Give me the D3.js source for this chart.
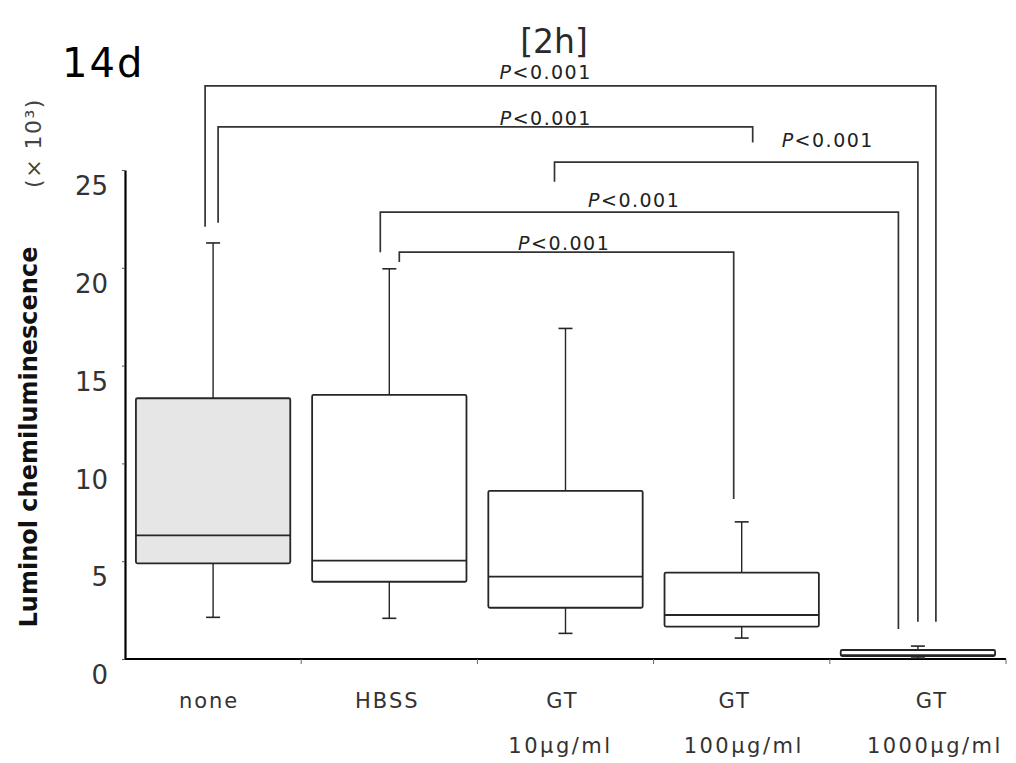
<!DOCTYPE html>
<html>
<head>
<meta charset="utf-8">
<script src="https://cdn.jsdelivr.net/npm/d3@7"></script>
<style>
  html, body { margin: 0; padding: 0; background: #fff; }
  svg { display: block; }
  text { font-family: "DejaVu Sans", sans-serif; }
</style>
</head>
<body>
<svg id="chart" width="1016" height="763"></svg>
<script>
// Groups and their two-line labels
const categories = ["none", "HBSS", "GT10", "GT100", "GT1000"];
const labelTop = ["none", "HBSS", "GT", "GT", "GT"];
const labelBottom = ["", "", "10\u03bcg/ml", "100\u03bcg/ml", "1000\u03bcg/ml"];

// Box-plot statistics (×10³)
const whiskerLow  = [2.13, 2.08, 1.31, 1.07, 0.05];
const q1          = [4.89, 3.95, 2.62, 1.66, 0.15];
const median      = [6.32, 5.03, 4.21, 2.25, 0.20];
const q3          = [13.33, 13.5, 8.60, 4.42, 0.46];
const whiskerHigh = [21.27, 19.95, 16.9, 7.01, 0.66];

const yTicks = [0, 5, 10, 15, 20, 25];

// Significance comparisons: groups, bracket level and leg ends (×10³)
const pairFrom  = ["none", "none", "GT10", "HBSS", "HBSS"];
const pairTo    = ["GT1000", "GT100", "GT1000", "GT1000", "GT100"];
const pLevel    = [29.3, 27.2, 25.4, 22.85, 20.8];
const legEndFrom = [22.1, 22.3, 24.4, 20.8, 20.3];
const legEndTo   = [1.9, 26.4, 1.9, 1.53, 8.18];
const pText = ["<0.001", "<0.001", "<0.001", "<0.001", "<0.001"];

// Bracket drawing layout (leg shifts in px, label placement along the span)
const legShiftFrom = [-8, 5, -11, -9, 10];
const legShiftTo   = [18, 11, 0, -19.5, -8];
const labelAlong   = [0.466, 0.613, 0.752, 0.49, 0.493];
const labelLift    = [7, 2, 15, 5, 2];

// Category label nudges (px)
const labelTopShift = [-4, -2, -3, -7, 14];
const labelBottomShift = [0, 0, -5, 2, 17];

const svg = d3.select("#chart");

const x = d3.scaleBand().domain(categories).range([125, 1006]).padding(0);
const y = d3.scaleLinear().domain([0, 25]).range([659, 170]);
const boxW = x.step() * 0.876;
const cx = c => x(c) + x.bandwidth() / 2;

// Titles
svg.append("text").attr("x", 62).attr("y", 77)
  .attr("font-size", 40).attr("letter-spacing", 2).attr("fill", "#000").text("14d");
svg.append("text").attr("x", 554).attr("y", 53).attr("text-anchor", "middle")
  .attr("font-size", 33).attr("fill", "#2a2a2a").text("[2h]");

// Y axis title and unit
svg.append("text")
  .attr("transform", "translate(37,437) rotate(-90)")
  .attr("text-anchor", "middle").attr("font-size", 24).attr("font-weight", "bold")
  .attr("fill", "#111").text("Luminol chemiluminescence");
svg.append("text")
  .attr("transform", "translate(41,143) rotate(-90)")
  .attr("text-anchor", "middle").attr("font-size", 22).attr("letter-spacing", 1.5)
  .attr("fill", "#444")
  .text("(\u00d7 10\u00b3)");

// Y axis
const yAxis = svg.append("g").attr("transform", "translate(125,0)")
  .call(d3.axisLeft(y).tickValues(yTicks).tickSize(3).tickSizeOuter(0));
yAxis.select(".domain").attr("stroke", "#000").attr("stroke-width", 2.2);
yAxis.selectAll(".tick line").attr("stroke", "#555");
yAxis.selectAll(".tick text")
  .attr("x", -17).attr("dy", "0.95em")
  .attr("font-size", 26).attr("fill", "#333")
  .attr("font-family", "DejaVu Sans, sans-serif");

// X axis
const xAxis = svg.append("g").attr("transform", "translate(0,659)");
xAxis.append("line").attr("x1", 125).attr("x2", 1006).attr("y1", 0).attr("y2", 0)
  .attr("stroke", "#000").attr("stroke-width", 2.2);
xAxis.selectAll("line.xt").data(categories)
  .join("line").attr("class", "xt")
  .attr("x1", d => x(d) + x.step())
  .attr("x2", d => x(d) + x.step())
  .attr("y1", 0).attr("y2", 5).attr("stroke", "#666");

// Category labels
svg.selectAll("text.lt").data(categories).join("text").attr("class", "lt")
  .attr("x", (d, i) => cx(d) + labelTopShift[i]).attr("y", 708).attr("text-anchor", "middle")
  .attr("font-size", 21).attr("letter-spacing", 2).attr("fill", "#333")
  .text((d, i) => labelTop[i]);
svg.selectAll("text.lb").data(categories).join("text").attr("class", "lb")
  .attr("x", (d, i) => cx(d) + labelBottomShift[i]).attr("y", 753).attr("text-anchor", "middle")
  .attr("font-size", 21).attr("letter-spacing", 2.5).attr("fill", "#333")
  .text((d, i) => labelBottom[i]);

// Box plots
const boxes = svg.selectAll("g.box").data(categories).join("g").attr("class", "box");
const capW = 14;
boxes.each(function (c, i) {
  const g = d3.select(this);
  const xc = cx(c);
  const stroke = "#262626";
  // whiskers
  g.append("line").attr("x1", xc).attr("x2", xc)
    .attr("y1", y(q3[i])).attr("y2", y(whiskerHigh[i])).attr("stroke", stroke).attr("stroke-width", 1.4);
  g.append("line").attr("x1", xc).attr("x2", xc)
    .attr("y1", y(q1[i])).attr("y2", y(whiskerLow[i])).attr("stroke", stroke).attr("stroke-width", 1.4);
  [whiskerHigh[i], whiskerLow[i]].forEach(v => {
    g.append("line").attr("x1", xc - capW / 2).attr("x2", xc + capW / 2)
      .attr("y1", y(v)).attr("y2", y(v)).attr("stroke", stroke).attr("stroke-width", 1.6);
  });
  // box
  g.append("rect")
    .attr("x", xc - boxW / 2).attr("width", boxW)
    .attr("y", y(q3[i])).attr("height", y(q1[i]) - y(q3[i]))
    .attr("rx", 1.5)
    .attr("fill", c === "none" ? "#e6e6e6" : "#fff")
    .attr("stroke", stroke).attr("stroke-width", 1.8);
  // median
  g.append("line").attr("x1", xc - boxW / 2).attr("x2", xc + boxW / 2)
    .attr("y1", y(median[i])).attr("y2", y(median[i]))
    .attr("stroke", stroke).attr("stroke-width", 1.8);
});

// Significance brackets
pairFrom.forEach((a, i) => {
  const b = pairTo[i];
  const xa = cx(a) + legShiftFrom[i];
  const xb = cx(b) + legShiftTo[i];
  const yl = y(pLevel[i]);
  svg.append("path")
    .attr("d", `M${xa},${y(legEndFrom[i])}V${yl}H${xb}V${y(legEndTo[i])}`)
    .attr("fill", "none").attr("stroke", "#333").attr("stroke-width", 1.7);
  const t = svg.append("text")
    .attr("x", xa + (xb - xa) * labelAlong[i]).attr("y", yl - labelLift[i])
    .attr("text-anchor", "middle").attr("font-size", 19).attr("letter-spacing", 1.5)
    .attr("fill", "#222");
  t.append("tspan").attr("font-style", "italic").text("P");
  t.append("tspan").text(pText[i]);
});
</script>
</body>
</html>
